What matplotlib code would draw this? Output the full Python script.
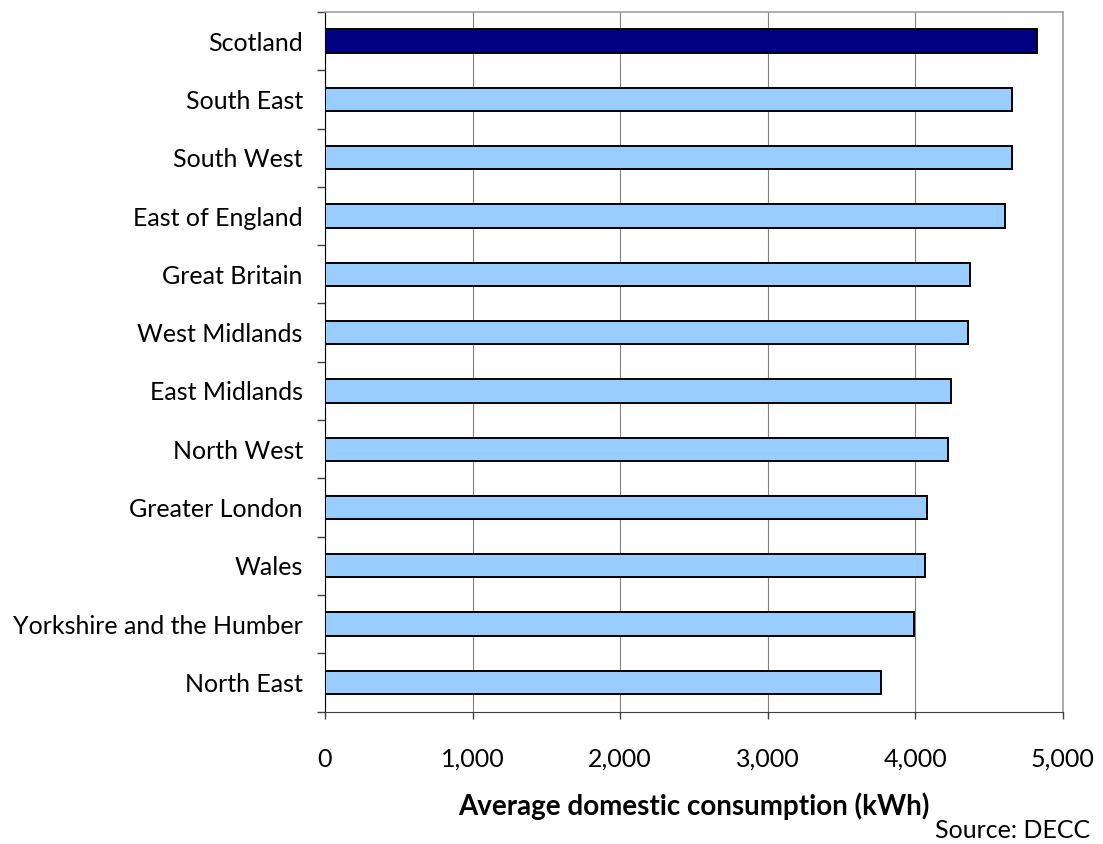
import matplotlib
matplotlib.use('Agg')
import matplotlib.pyplot as plt
from matplotlib.ticker import FuncFormatter, FixedLocator

plt.rcParams['font.family'] = ['Lato', 'DejaVu Sans']

# average domestic electricity consumption by region (kWh)
regions = ['Scotland', 'South East', 'South West', 'East of England',
           'Great Britain', 'West Midlands', 'East Midlands', 'North West',
           'Greater London', 'Wales', 'Yorkshire and the Humber', 'North East']
consumption = [4824, 4657, 4657, 4610, 4373, 4361, 4244, 4221,
               4079, 4068, 3995, 3770]
highlight = 'Scotland'

FS = 18

fig = plt.figure(figsize=(11.03, 8.44), dpi=100)
ax = fig.add_axes([325 / 1103, 1 - 711.5 / 844, (1062.7 - 325) / 1103,
                   (711.5 - 12) / 844])

ypos = list(range(len(regions)))[::-1]
colors = ['#000080' if r == highlight else '#99CCFF' for r in regions]
ax.barh(ypos, consumption, height=0.4, color=colors, edgecolor='black',
        linewidth=1.4, zorder=3)

ax.set_xlim(0, 5000)
ax.set_ylim(-0.5, len(regions) - 0.5)
ax.set_xticks(range(0, 5001, 1000))
ax.xaxis.set_major_formatter(FuncFormatter(lambda v, p: f'{int(v):,}'))
ax.grid(axis='x', color='#808080', linewidth=0.8, zorder=0)

ax.set_yticks(ypos)
ax.set_yticklabels(regions)
ax.yaxis.set_minor_locator(FixedLocator([i - 0.5 for i in range(len(regions) + 1)]))
ax.tick_params(axis='y', which='major', length=0, pad=16, labelsize=FS)
ax.tick_params(axis='y', which='minor', length=6, width=1.0, color='#404040')
ax.tick_params(axis='x', length=5, width=1.0, color='#404040', pad=21,
               labelsize=FS)

for side in ['top', 'right']:
    ax.spines[side].set_color('#a0a0a0')
    ax.spines[side].set_linewidth(1.2)
ax.spines['left'].set_color('black')
ax.spines['bottom'].set_color('#404040')

ax.set_xlabel('Average domestic consumption (kWh)', fontsize=20,
              fontweight='bold', labelpad=16)
fig.text(1090 / 1103, 1 - 830 / 844, 'Source: DECC', fontsize=FS,
         ha='right', va='center')

fig.savefig('out.png', dpi=100)
